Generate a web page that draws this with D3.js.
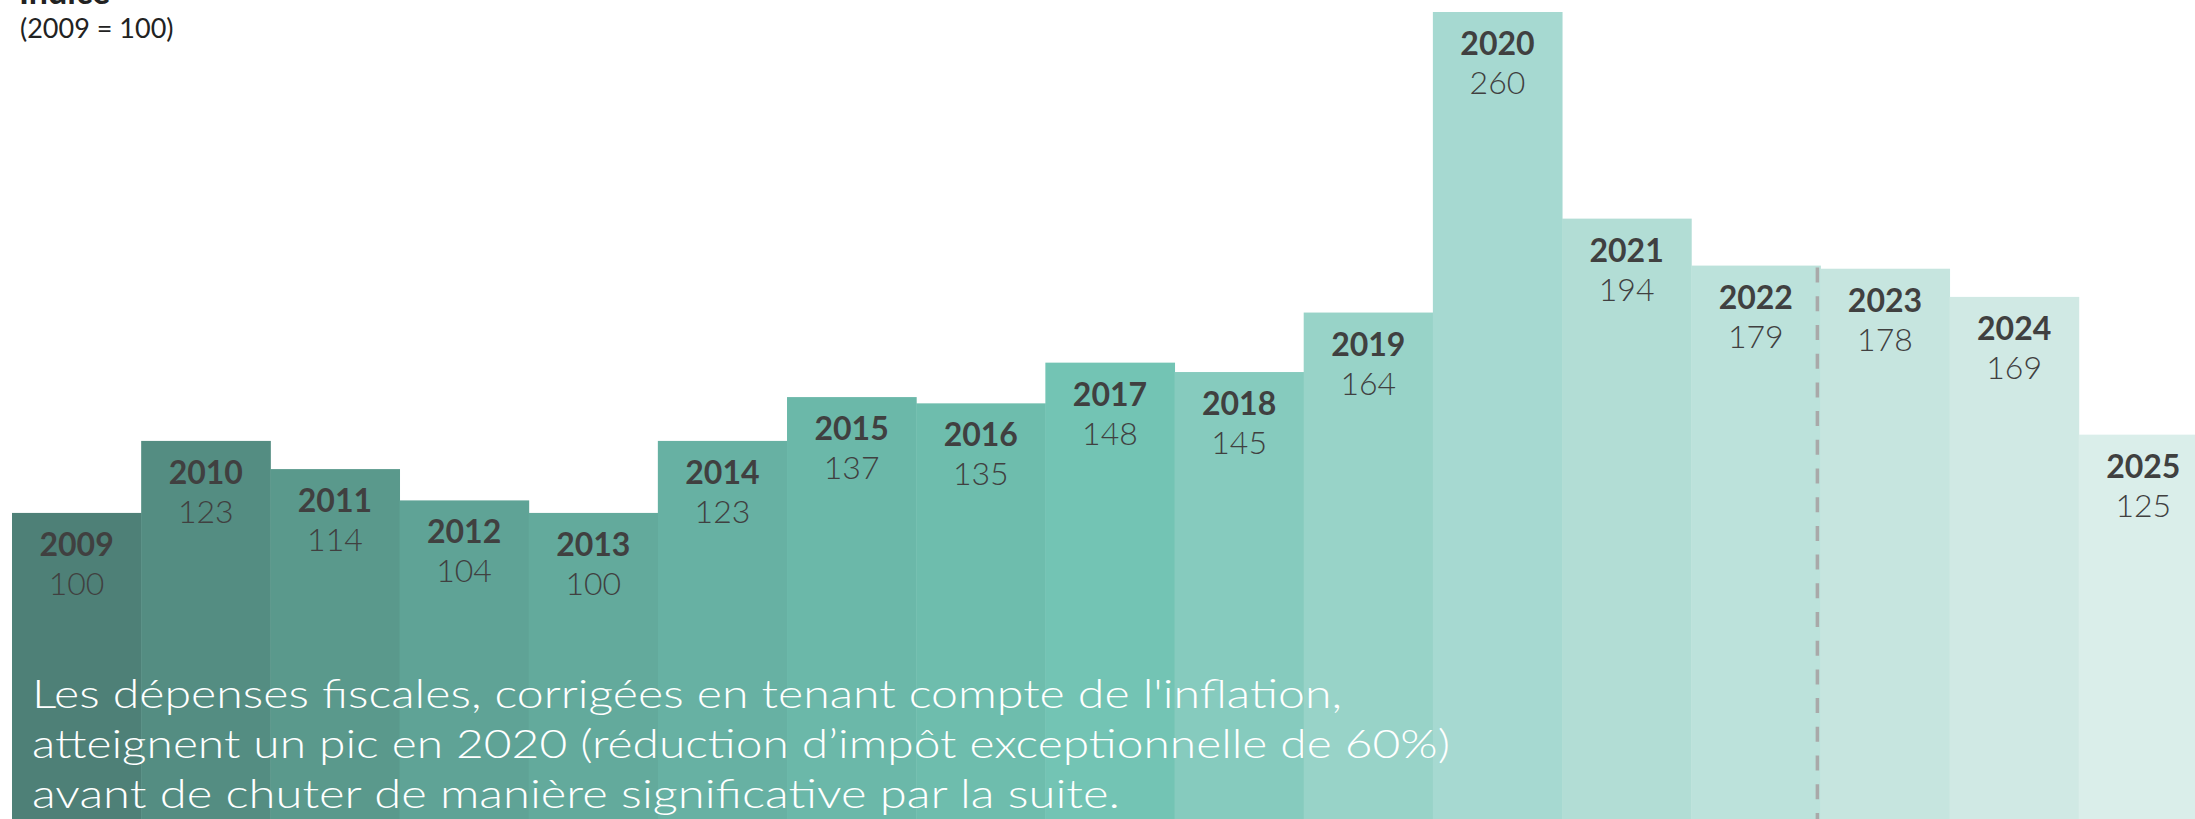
<!DOCTYPE html>
<html>
<head>
<meta charset="utf-8">
<script src="https://cdn.jsdelivr.net/npm/d3@7"></script>
<style>
  html, body { margin: 0; padding: 0; background: #fff; overflow: hidden; }
  svg { display: block; }
</style>
</head>
<body>
<div id="chart"></div>
<script>
// index of tax expenditures, 2009 = 100
const years = ["2009", "2010", "2011", "2012", "2013", "2014", "2015", "2016", "2017",
  "2018", "2019", "2020", "2021", "2022", "2023", "2024", "2025"];
const values = [100, 123, 114, 104, 100, 123, 137, 135, 148, 145, 164, 260, 194, 179, 178, 169, 125];
const noteLines = [
  "Les dépenses fiscales, corrigées en tenant compte de l'inflation,",
  "atteignent un pic en 2020 (réduction d’impôt exceptionnelle de 60%)",
  "avant de chuter de manière significative par la suite."
];
const dividerYear = "2023";

const palette = ["#4e8077", "#548d82", "#5a998c", "#5fa396", "#63aa9c", "#67b1a3", "#6bb8a9",
  "#6ebdad", "#73c4b4", "#86cbbe", "#98d3c8", "#a6d9d1", "#b2ddd5", "#bce2db", "#c6e5df",
  "#d0e9e4", "#daeeea"];

const width = 2195;
const height = 819;

const svg = d3.select("#chart")
  .append("svg")
  .attr("width", width)
  .attr("height", height);

const x = d3.scaleBand()
  .domain(years)
  .range([12, 12 + 17 * 129.17])
  .padding(0);

const y = d3.scaleLinear()
  .domain([0, 260])
  .range([826, 12]);

const color = d3.scaleOrdinal()
  .domain(years)
  .range(palette);

const data = years.map((year, i) => ({ year, value: values[i] }));

svg.selectAll("rect.bar")
  .data(data)
  .enter()
  .append("rect")
  .attr("class", "bar")
  .attr("x", d => x(d.year))
  .attr("y", d => y(d.value))
  .attr("width", x.bandwidth() + 0.5)
  .attr("height", d => y(0) - y(d.value))
  .attr("fill", d => color(d.year));

// dashed separator before the forecast years
const prevValue = values[years.indexOf(dividerYear) - 1];
svg.append("line")
  .attr("x1", x(dividerYear) - 3)
  .attr("x2", x(dividerYear) - 3)
  .attr("y1", y(prevValue) + 2)
  .attr("y2", height)
  .attr("stroke", "#a9a9a9")
  .attr("stroke-width", 3.5)
  .attr("stroke-dasharray", "15,13.7");

const labels = svg.selectAll("g.label")
  .data(data)
  .enter()
  .append("g")
  .attr("class", "label")
  .attr("transform", d => `translate(${x(d.year) + x.bandwidth() / 2},${y(d.value)})`);

labels.append("text")
  .attr("y", 43)
  .attr("text-anchor", "middle")
  .attr("font-family", "Lato, sans-serif")
  .attr("font-weight", 700)
  .attr("font-size", 32)
  .attr("fill", "#404040")
  .text(d => d.year);

labels.append("text")
  .attr("y", 82)
  .attr("text-anchor", "middle")
  .attr("font-family", "Lato, sans-serif")
  .attr("font-weight", 300)
  .attr("font-size", 32)
  .attr("fill", "#404040")
  .text(d => d.value);

// title
svg.append("text")
  .attr("x", 19)
  .attr("y", 4)
  .attr("font-family", "Lato, sans-serif")
  .attr("font-weight", 700)
  .attr("font-size", 34)
  .attr("fill", "#222")
  .text("Indice");

svg.append("text")
  .attr("x", 20)
  .attr("y", 37.5)
  .attr("font-family", "Lato, sans-serif")
  .attr("font-weight", 400)
  .attr("font-size", 27)
  .attr("fill", "#222")
  .text("(2009 = 100)");

// annotation
const lineWidths = [1310, 1418, 1088];
svg.append("g")
  .selectAll("text")
  .data(noteLines)
  .enter()
  .append("text")
  .attr("x", 32)
  .attr("y", (d, i) => 708 + i * 50)
  .attr("font-family", "Lato, sans-serif")
  .attr("font-weight", 300)
  .attr("font-size", 40)
  .attr("fill", "#fff")
  .attr("textLength", (d, i) => lineWidths[i])
  .attr("lengthAdjust", "spacingAndGlyphs")
  .text(d => d);
</script>
</body>
</html>
